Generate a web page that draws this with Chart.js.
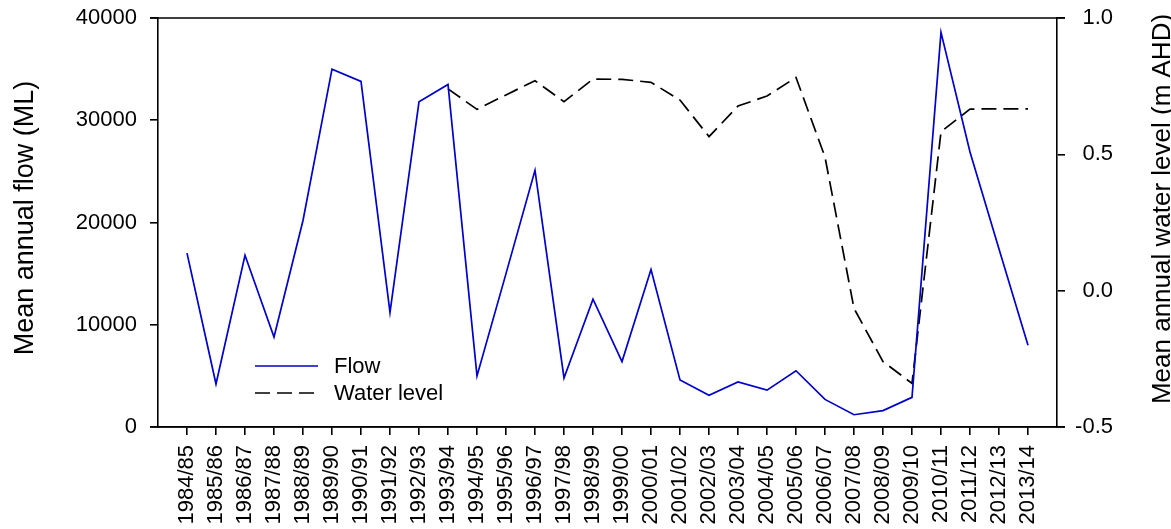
<!DOCTYPE html>
<html>
<head>
<meta charset="utf-8">
<script src="https://cdn.jsdelivr.net/npm/chart.js@4/dist/chart.umd.min.js"></script>
<style>
  html, body { margin: 0; padding: 0; background: #fff; }
  #wrap { width: 1171px; height: 529px; position: relative; }
</style>
</head>
<body>
<div id="wrap"><canvas id="flowChart"></canvas></div>
<script>
const seasons = [
  '1984/85', '1985/86', '1986/87', '1987/88', '1988/89', '1989/90', '1990/91', '1991/92',
  '1992/93', '1993/94', '1994/95', '1995/96', '1996/97', '1997/98', '1998/99', '1999/00',
  '2000/01', '2001/02', '2002/03', '2003/04', '2004/05', '2005/06', '2006/07', '2007/08',
  '2008/09', '2009/10', '2010/11', '2011/12', '2012/13', '2013/14'
];
const flowML = [
  17000, 4200, 16800, 8800, 20200, 35000, 33800, 11200, 31800, 33500,
  5000, 15000, 25100, 4800, 12500, 6400, 15400, 4600, 3100, 4400,
  3600, 5500, 2700, 1200, 1600, 2900, 38600, 26900, 17400, 8000
];
const waterLevel = [
  null, null, null, null, null, null, null, null, null, 0.74,
  0.665, 0.718, 0.77, 0.693, 0.776, 0.775, 0.764, 0.699, 0.565, 0.677,
  0.714, 0.782, 0.49, -0.065, -0.26, -0.34, 0.583, 0.666, 0.667, 0.667
];
const flowTicks = [0, 10000, 20000, 30000, 40000];
const levelTicks = [-0.5, 0.0, 0.5, 1.0];

const FONT = '"Liberation Sans", Arial, Helvetica, sans-serif';

// keep the plot box where the reference has it: drop the label overhang padding
function noOverhang(s) {
  s.paddingTop = 0;
  s.paddingBottom = 0;
  s.paddingLeft = 0;
  s.paddingRight = 0;
}

// titles, frame and in-plot legend drawn by hand
const decor = {
  id: 'decor',
  afterDraw(chart) {
    const { ctx, chartArea: a } = chart;
    ctx.save();
    ctx.strokeStyle = '#000';
    ctx.lineWidth = 1.6;
    ctx.beginPath();
    ctx.moveTo(a.left - 8, a.top); ctx.lineTo(a.right + 8, a.top);
    ctx.moveTo(a.left - 8, a.bottom); ctx.lineTo(a.right + 8, a.bottom);
    ctx.stroke();

    ctx.fillStyle = '#000';
    ctx.textAlign = 'center';
    ctx.textBaseline = 'alphabetic';
    ctx.save();
    ctx.font = '27px ' + FONT;
    ctx.translate(33, 218);
    ctx.rotate(-Math.PI / 2);
    ctx.fillText('Mean annual flow (ML)', 0, 0);
    ctx.restore();
    ctx.save();
    ctx.font = '26px ' + FONT;
    ctx.translate(1170, 209);
    ctx.rotate(-Math.PI / 2);
    ctx.fillText('Mean annual water level (m AHD)', 0, 0);
    ctx.restore();

    const rows = chart.data.datasets.map((ds, i) => ({ ds, y: 366 + i * 27 }));
    ctx.font = '22px ' + FONT;
    ctx.textAlign = 'left';
    ctx.textBaseline = 'middle';
    rows.forEach(({ ds, y }) => {
      ctx.strokeStyle = ds.borderColor;
      ctx.lineWidth = ds.borderWidth;
      ctx.setLineDash(ds.borderDash || []);
      ctx.beginPath();
      ctx.moveTo(255, y); ctx.lineTo(318, y);
      ctx.stroke();
      ctx.setLineDash([]);
      ctx.fillText(ds.label, 334, y + 1);
    });
    ctx.restore();
  }
};

new Chart(document.getElementById('flowChart'), {
  type: 'line',
  data: {
    datasets: [
      {
        label: 'Flow',
        data: flowML.map((v, i) => ({ x: i, y: v })),
        yAxisID: 'y',
        borderColor: '#0000cc',
        borderWidth: 1.7,
        pointRadius: 0,
        tension: 0
      },
      {
        label: 'Water level',
        data: waterLevel.map((v, i) => ({ x: i, y: v })),
        yAxisID: 'y2',
        borderColor: '#000000',
        borderWidth: 1.7,
        borderDash: [15, 7],
        pointRadius: 0,
        tension: 0
      }
    ]
  },
  options: {
    responsive: true,
    maintainAspectRatio: false,
    animation: false,
    layout: { padding: { left: 40, right: 58, top: 18, bottom: 0 } },
    plugins: {
      legend: { display: false },
      tooltip: { enabled: false }
    },
    scales: {
      x: {
        type: 'linear',
        min: -1,
        max: seasons.length,
        afterBuildTicks: (s) => { s.ticks = seasons.map((_, i) => ({ value: i })); },
        afterFit: (s) => { s.height = 102; noOverhang(s); },
        ticks: {
          autoSkip: false,
          minRotation: 90,
          maxRotation: 90,
          padding: 10,
          color: '#000',
          font: { family: FONT, size: 22 },
          callback: (v) => seasons[v] ?? ''
        },
        grid: { drawOnChartArea: false, tickLength: 8, color: '#000', lineWidth: 1.6 },
        border: { color: '#000', width: 1.6 }
      },
      y: {
        position: 'left',
        min: 0,
        max: 40000,
        afterBuildTicks: (s) => { s.ticks = flowTicks.map((v) => ({ value: v })); },
        afterFit: (s) => { s.width = 118; noOverhang(s); },
        ticks: {
          padding: 13,
          color: '#000',
          font: { family: FONT, size: 22 },
          callback: (v) => String(v)
        },
        grid: { drawOnChartArea: false, tickLength: 8, color: '#000', lineWidth: 1.6 },
        border: { color: '#000', width: 1.6 }
      },
      y2: {
        position: 'right',
        min: -0.5,
        max: 1.0,
        afterBuildTicks: (s) => { s.ticks = levelTicks.map((v) => ({ value: v })); },
        afterFit: (s) => { s.width = 56; noOverhang(s); },
        ticks: {
          crossAlign: 'far',
          padding: 11,
          color: '#000',
          font: { family: FONT, size: 22 },
          callback: (v) => Number(v).toFixed(1)
        },
        grid: { drawOnChartArea: false, tickLength: 8, color: '#000', lineWidth: 1.6 },
        border: { color: '#000', width: 1.6 }
      }
    }
  },
  plugins: [decor]
});
</script>
</body>
</html>
